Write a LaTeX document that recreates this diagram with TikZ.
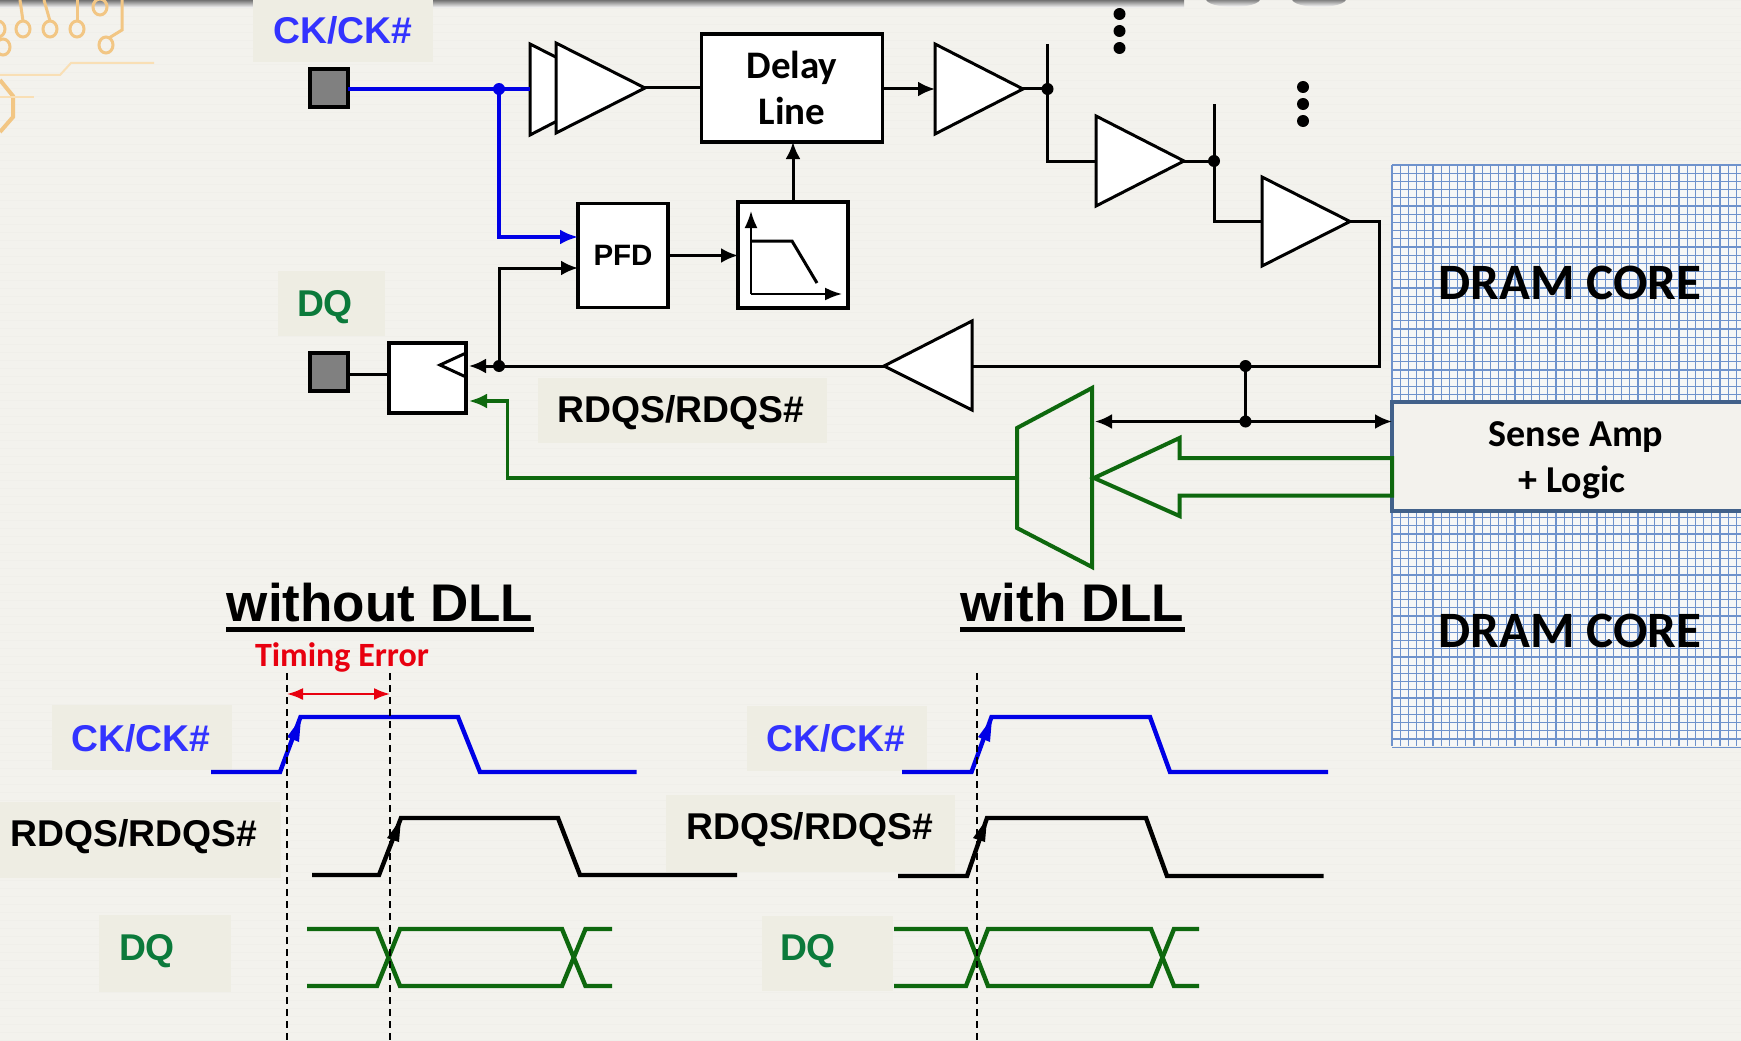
\documentclass[tikz,border=0pt]{standalone}
\usepackage{fontspec}
\setmainfont{Liberation Sans}
\newfontfamily\calfont{Carlito}
\usetikzlibrary{arrows.meta,calc}
\definecolor{paper}{HTML}{F3F2ED}
\definecolor{stripe}{HTML}{F0EFEA}
\definecolor{labelbg}{HTML}{EEEDE3}
\definecolor{wireblue}{HTML}{0000E6}
\definecolor{textblue}{HTML}{3333FF}
\definecolor{wiregreen}{HTML}{0E680E}
\definecolor{textgreen}{HTML}{0B7A3B}
\definecolor{gridblue}{HTML}{6E92CC}
\definecolor{gridbg}{HTML}{F6F7F7}
\definecolor{saedge}{HTML}{41618A}
\definecolor{trace}{HTML}{F2C684}
\definecolor{tracelt}{HTML}{F9DFB5}
\definecolor{padgray}{HTML}{808080}
\definecolor{errred}{HTML}{E8000F}
\tikzset{
  wire/.style={line width=3pt,draw=black},
  awire/.style={wire,-{Latex[length=17pt,width=15pt]}},
  bwire/.style={line width=3.4pt,draw=wireblue},
  gwire/.style={line width=3.4pt,draw=wiregreen},
  block/.style={draw=black,line width=3.8pt,fill=white,inner sep=0pt,outer sep=0pt,align=center},
  pad/.style={draw=black,line width=3.8pt,fill=padgray,minimum width=38pt,minimum height=38pt,inner sep=0pt,outer sep=0pt},
  amp/.style={draw=black,line width=3pt,fill=white,line join=miter},
  dotj/.style={circle,fill=black,minimum size=12pt,inner sep=0pt},
  vdot/.style={circle,fill=black,minimum size=12pt,inner sep=0pt},
  sigtext/.style={font=\bfseries\fontsize{37.3}{37.3}\selectfont,inner sep=0pt},
  cal/.style={font=\calfont\bfseries\fontsize{38}{46}\selectfont,align=center,inner sep=0pt},
  wave/.style={line width=4.4pt,line join=miter},
  timing/.style={draw=black,line width=2.2pt,dash pattern=on 7pt off 5pt},
  title/.style={font=\bfseries\fontsize{53}{53}\selectfont,inner sep=0pt,anchor=base},
  uline/.style={draw=black,line width=5pt},
  logo/.style={draw=trace,line width=3pt}
}
% #1 name, #2 left x, #3 top y, #4 right x, #5 bottom y
\newcommand{\ampright}[5]{%
  \coordinate (#1-in) at (#2,{(#3+#5)/2});
  \coordinate (#1-out) at (#4,{(#3+#5)/2});
  \draw[amp] (#2,#3) -- (#1-out) -- (#2,#5) -- cycle;
}
\begin{document}
\begin{tikzpicture}[x=1pt,y=-1pt]
\path[use as bounding box,clip] (0,0) rectangle (1741,1041);
\fill[paper] (0,0) rectangle (1741,1041);
\foreach \k in {0,...,130} \draw[stripe,line width=.7pt] (0,{8*\k}) -- (1741,{8*\k});

% top strip
\shade[top color=black!55,bottom color=white] (0,0) rectangle (1184,8);
\shade[top color=black!55,bottom color=white] (1206,-1) arc[x radius=27,y radius=8,start angle=180,end angle=0] -- cycle;
\shade[top color=black!55,bottom color=white] (1292,-1) arc[x radius=27,y radius=8,start angle=180,end angle=0] -- cycle;

% logo
\foreach \p in {23,50,77}{\draw[logo] (\p,29) ellipse[x radius=7,y radius=8];}
\draw[logo] (106,45) ellipse[x radius=7,y radius=8];
\draw[logo] (100,7) ellipse[x radius=7,y radius=8];
\draw[logo] (3,47) ellipse[x radius=7,y radius=8];
\draw[logo] (-2,29) ellipse[x radius=7,y radius=8];
\draw[logo] (20,0) -- (23,21);
\draw[logo] (44,0) -- (50,21);
\draw[logo] (77,0) -- (77,20);
\draw[logo] (122,0) -- (122,30) -- (109,38);
\draw[draw=tracelt,line width=2pt] (0,75) -- (60,75) -- (71,63) -- (154,63);
\draw[logo,line width=4pt] (0,80) -- (13,96) -- (13,117) -- (0,132);
\draw[draw=tracelt,line width=2pt] (0,97) -- (34,97);

% DRAM core grid
\fill[gridbg] (1392,165) rectangle (1741,746);
\foreach \k in {0,...,43} \draw[gridblue,line width=1.3pt] ({1392+8.2*\k},165) -- ({1392+8.2*\k},746);
\foreach \k in {0,...,71} \draw[gridblue,line width=1.3pt] (1392,{165+8.2*\k}) -- (1741,{165+8.2*\k});
\node[inner sep=0pt,font=\calfont\bfseries\fontsize{51}{51}\selectfont] (core1) at (1570,283) {DRAM CORE};
\node[inner sep=0pt,font=\calfont\bfseries\fontsize{51}{51}\selectfont] (core2) at (1570,631) {DRAM CORE};

% labels behind the text
\fill[labelbg] (253,0) rectangle (433,62);
\fill[labelbg] (278,271) rectangle (385,336);
\fill[labelbg] (538,378) rectangle (827,443);
\fill[labelbg] (52,705) rectangle (232,770);
\fill[labelbg] (0,802) rectangle (281,878);
\fill[labelbg] (99,915) rectangle (231,992);
\fill[labelbg] (747,706) rectangle (927,771);
\fill[labelbg] (666,795) rectangle (955,872);
\fill[labelbg] (762,916) rectangle (893,991);

\node[sigtext,textblue] (lck) at (343,30) {CK/CK\#};
\node[sigtext,textgreen] (ldq) at (325,307) {DQ};
\node[sigtext,black] (lrdqs) at (681,413) {RDQS/RDQS\#};

% pads, blocks
\node[pad] (padck) at (329,88) {};
\node[pad] (paddq) at (329,372) {};
\node[block,minimum width=181pt,minimum height=108pt,font=\calfont\bfseries\fontsize{39}{46}\selectfont] (delay) at (792,88) {Delay\\Line};
\node[block,minimum width=90pt,minimum height=104pt,font=\bfseries\fontsize{29.5}{29.5}\selectfont] (pfd) at (623,255.5) {PFD};
\node[block,minimum width=110pt,minimum height=106pt] (lpf) at (793,255) {};
\node[block,minimum width=77pt,minimum height=70pt] (ff) at (427.5,378) {};
\node[draw=saedge,line width=3.6pt,fill=paper,minimum width=360pt,minimum height=109pt,inner sep=0pt,outer sep=0pt,anchor=west] (sa) at (1392,456.5) {};
\node[cal] (sa1) at (1576,437) {Sense Amp};
\node[cal] (sa2) at (1572,482) {+ Logic};

% filter sketch
\coordinate (lo) at (751,294);
\draw[line width=2pt,-{Latex[length=17pt,width=13pt]}] (lo) -- (751,211);
\draw[line width=2pt,-{Latex[length=17pt,width=13pt]}] (lo) -- (842,294);
\draw[line width=3pt] (751,241) -- (792,241) -- (817,283);

% clock mark in flip-flop
\draw[line width=3pt] (466,353) -- (440,365) -- (466,377);

% amplifiers
\draw[amp] (530,44) -- (619,89) -- (530,135) -- cycle;
\ampright{a0}{556}{43}{645}{133}
\ampright{a1}{935}{44}{1023}{134}
\ampright{a2}{1096}{116}{1184}{206}
\ampright{a3}{1262}{177}{1350}{266}
\coordinate (a4-in) at (972,366);
\coordinate (a4-out) at (884,366);
\draw[amp] (972,321) -- (a4-out) -- (972,410) -- cycle;

% nets
\coordinate (jck) at (499,89);
\coordinate (a0back) at (530,89);
\draw[bwire] (padck.east |- jck) -- (a0back);
\draw[bwire,-{Latex[length=18pt,width=15pt]}] (jck) -- (jck |- 0,237) -- (pfd.west |- 0,237);
\node[circle,fill=wireblue,minimum size=12pt,inner sep=0pt] (jckd) at (jck) {};

\draw[wire] (a0-out) -- (delay.west |- a0-out);
\draw[awire] (delay.east |- a1-in) -- (a1-in);
\coordinate (j1) at (1047.5,89);
\coordinate (j1top) at (1047.5,44);
\draw[wire] (a1-out) -- (j1);
\draw[wire] (j1top) -- (j1 |- a2-in) -- (a2-in);
\node[dotj] (j1d) at (j1) {};
\coordinate (j2) at (1214,161);
\coordinate (j2top) at (1214,104);
\draw[wire] (a2-out) -- (j2);
\draw[wire] (j2top) -- (j2 |- a3-in) -- (a3-in);
\node[dotj] (j2d) at (j2) {};

\coordinate (turn) at (1379,366);
\draw[wire] (a3-out) -- (turn |- a3-out) -- (turn) -- (a4-in);

\coordinate (clk) at (499,366);
\coordinate (clktip) at (ff.east |- clk);
\draw[awire] (a4-out) -- ([xshift=3pt]clktip);
\draw[awire] (clk) -- (499,268) -- (pfd.west |- 0,268);
\node[dotj] (jclk) at (clk) {};
\draw[wire] (paddq.east |- 0,374) -- (ff.west |- 0,374);

\draw[awire] (pfd.east) -- (lpf.west |- pfd.east);
\draw[awire] (lpf.north) -- (lpf.north |- delay.south);

\coordinate (bus) at (1245.5,366);
\coordinate (busb) at (1245.5,421.5);
\coordinate (busl) at (1095,421.5);
\draw[wire] (bus) -- (busb);
\draw[wire,{Latex[length=17pt,width=15pt]}-{Latex[length=17pt,width=15pt]}] (busl) -- (sa.west |- busb);
\node[dotj] (jbus) at (bus) {};
\node[dotj] (jbusb) at (busb) {};

% vertical dots
\node[vdot] (d11) at (1119.5,14) {};
\node[vdot] (d12) at (1119.5,31) {};
\node[vdot] (d13) at (1119.5,48) {};
\node[vdot] (d21) at (1303,87) {};
\node[vdot] (d22) at (1303,104) {};
\node[vdot] (d23) at (1303,121) {};

% mux and data path
\draw[gwire,line width=4pt,line join=miter] (1092,388) -- (1017,428) -- (1017,528) -- (1092,567) -- cycle;
\draw[gwire,line width=4pt,line join=miter] (1094,478) -- (1179.5,438) -- (1179.5,458) -- (1392,458) -- (1392,495.5) -- (1179.5,495.5) -- (1179.5,516) -- cycle;
\coordinate (muxout) at (1017,478);
\draw[gwire,-{Latex[length=18pt,width=15pt]}] (muxout) -- (507.5,478) -- (507.5,401) -- ([xshift=3pt]ff.east |- 0,401);

% titles
\node[title] (t1) at (380,621) {without DLL};
\node[title] (t2) at (1072.5,621) {with DLL};
\draw[uline] (226,629) -- (534,629);
\draw[uline] (960,629) -- (1185,629);
\node[inner sep=0pt,text=errred,font=\calfont\bfseries\fontsize{34}{34}\selectfont] (terr) at (342,657) {Timing Error};

% timing labels
\node[sigtext,textblue] (lck2) at (141,738) {CK/CK\#};
\node[sigtext,black] (lr2) at (134,837) {RDQS/RDQS\#};
\node[sigtext,textgreen] (ld2) at (147,951) {DQ};
\node[sigtext,textblue] (lck3) at (836,738) {CK/CK\#};
\node[sigtext,black] (lr3) at (809.5,830) {RDQS/RDQS\#};
\node[sigtext,textgreen] (ld3) at (808,951) {DQ};

% waves without DLL
\draw[wave,wireblue] (211,772) -- (280,772) -- (300.5,717) -- (458,717) -- (480,772) -- (636.5,772);
\fill[wireblue] (301,718) -- (287,737) -- (299,742) -- cycle;
\draw[wave,black] (312,875) -- (379,875) -- (401,818) -- (558,818) -- (580,875) -- (737,875);
\fill[black] (401,819) -- (387,838) -- (399,842) -- cycle;
\draw[wave,wiregreen] (307,929) -- (377,929) -- (400,986) -- (562,986) -- (585.5,929) -- (612,929);
\draw[wave,wiregreen] (307,986) -- (377,986) -- (400,929) -- (562,929) -- (585.5,986) -- (612,986);

% waves with DLL
\draw[wave,wireblue] (902,772) -- (971.5,772) -- (991.5,717) -- (1150,717) -- (1170,772) -- (1328,772);
\fill[wireblue] (992,718) -- (978,737) -- (990,742) -- cycle;
\draw[wave,black] (898,876) -- (967,876) -- (987,818) -- (1146,818) -- (1167,876) -- (1323.5,876);
\fill[black] (987,819) -- (973,838) -- (985,842) -- cycle;
\draw[wave,wiregreen] (894,929) -- (966,929) -- (988,986) -- (1151,986) -- (1174,929) -- (1199,929);
\draw[wave,wiregreen] (894,986) -- (966,986) -- (988,929) -- (1151,929) -- (1174,986) -- (1199,986);

% timing lines
\coordinate (ta) at (287,673);
\coordinate (tb) at (390,673);
\coordinate (tc) at (977,673);
\draw[timing] (ta) -- (287,1041);
\draw[timing] (tb) -- (390,1041);
\draw[timing] (tc) -- (977,1041);
\draw[errred,line width=2pt,{Latex[length=16pt,width=12pt]}-{Latex[length=16pt,width=12pt]}] (ta |- 0,694) -- (tb |- 0,694);
\end{tikzpicture}
\end{document}
